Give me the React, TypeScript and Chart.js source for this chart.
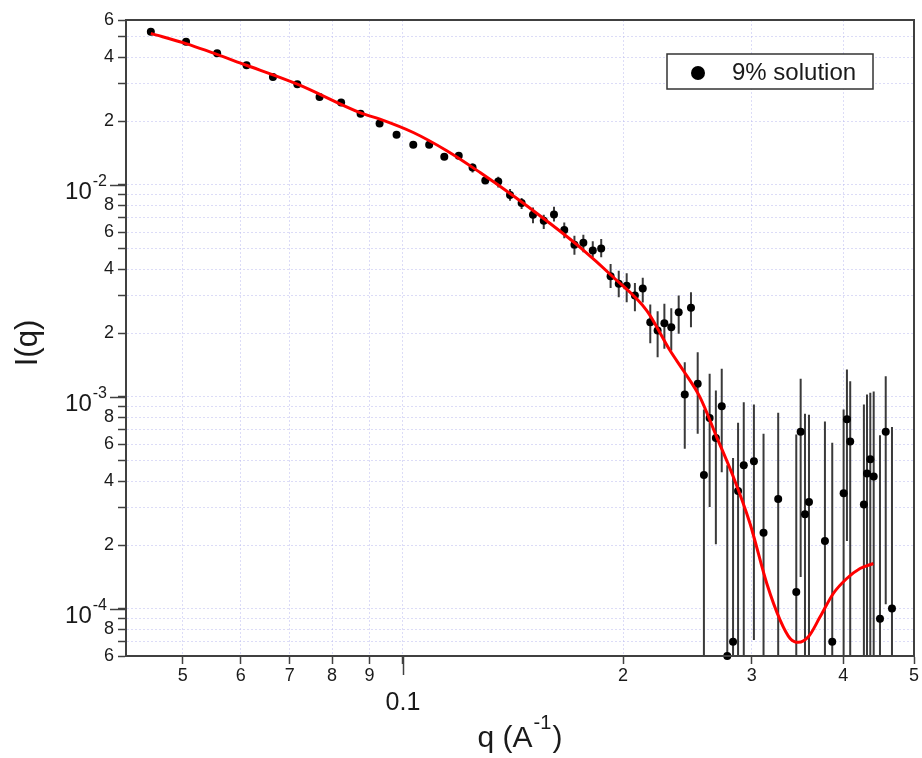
import React, { useEffect, useRef } from 'react';
import { Chart, registerables } from 'chart.js';

Chart.register(...registerables);

// ---- data ----
const seriesLabel = '9% solution';

const qValues = [
  0.0452, 0.0505, 0.0557, 0.0611, 0.0664, 0.0717, 0.0769, 0.0823, 0.0875, 0.0929,
  0.0980, 0.1033, 0.1086, 0.1139, 0.1192, 0.1245, 0.1296, 0.1350, 0.1401, 0.1453,
  0.1506, 0.1558, 0.1609, 0.1662, 0.1716, 0.1765, 0.1818, 0.1867, 0.1923, 0.1973,
  0.2023, 0.2076, 0.2128, 0.2179, 0.2230, 0.2278, 0.2328, 0.2383, 0.2429, 0.2477,
  0.2530, 0.2580, 0.2627, 0.2679, 0.2729, 0.2777, 0.2828, 0.2873, 0.2925, 0.3020,
  0.3113, 0.3260, 0.3451, 0.3499, 0.3547, 0.3592, 0.3777, 0.3865, 0.4006, 0.4048,
  0.4090, 0.4270, 0.4312, 0.4357, 0.4404, 0.4492, 0.4574, 0.4665,
];

const iValues = [
  0.0528, 0.0474, 0.0418, 0.0367, 0.0323, 0.0299, 0.0260, 0.0245, 0.0217, 0.0195,
  0.01724, 0.01547, 0.01547, 0.01358, 0.01373, 0.01209, 0.0105, 0.01039, 0.00897, 0.00822,
  0.00724, 0.00678, 0.00726, 0.00613, 0.00523, 0.00534, 0.00491, 0.00502, 0.00371, 0.00342,
  0.00335, 0.00301, 0.00325, 0.00225, 0.00206, 0.00223, 0.00213, 0.00251, 0.001027, 0.002632,
  0.001154, 0.000428, 0.000795, 0.000640, 0.000905, 0.0000600, 0.000070, 0.000360, 0.000476, 0.000497,
  0.000229, 0.000330, 0.0001204, 0.000686, 0.000280, 0.000320, 0.000209, 0.000070, 0.000351, 0.000784,
  0.000617, 0.000311, 0.000436, 0.000508, 0.000421, 0.000090, 0.000686, 0.0001006,
];

// lower / upper ends of the error bars (null: bar hidden by the marker, 1e-6: runs off the bottom)
const errLow = [
  null, null, null, null, null, null, null, null, null, null,
  null, null, null, null, null, 0.01145, 0.0101, 0.00973, 0.00843, 0.0077,
  0.00659, 0.0062, 0.00673, 0.0056, 0.00469, 0.00481, 0.00456, 0.00456, 0.00327, 0.00295,
  0.0028, 0.002537, 0.00279, 0.001793, 0.00154, 0.001688, 0.001656, 0.001985, 0.00057, 0.002132,
  0.000671, 1e-6, 0.000303, 0.000202, 0.000442, 1e-6, 1e-6, 1e-6, 1e-6, 0.0000713,
  1e-6, 1e-6, 1e-6, 0.0001417, 1e-6, 1e-6, 1e-6, 1e-6, 1e-6, 0.000209,
  1e-6, 1e-6, 1e-6, 1e-6, 1e-6, 1e-6, 0.0001054, 1e-6,
];

const errHigh = [
  null, null, null, null, null, null, null, null, null, null,
  null, null, null, null, null, 0.01263, 0.01093, 0.01093, 0.00957, 0.00868,
  0.00783, 0.00724, 0.00789, 0.00666, 0.00576, 0.00583, 0.00542, 0.00556, 0.00424, 0.00394,
  0.00383, 0.00345, 0.00365, 0.00273, 0.002537, 0.002749, 0.00262, 0.003007, 0.001459, 0.003117,
  0.001626, 0.000873, 0.001286, 0.001073, 0.001358, 0.000476, 0.000515, 0.000756, 0.000945, 0.000922,
  0.000671, 0.000842, 0.000666, 0.001218, 0.000834, 0.000825, 0.000767, 0.000608, 0.000873, 0.001348,
  0.001187, 0.000922, 0.001027, 0.001046, 0.001062, 0.000659, 0.001253, 0.000721,
];

const fitQ = [
  0.0452, 0.0505, 0.0611, 0.0717, 0.0875, 0.0930, 0.1033, 0.1148, 0.1275, 0.1415,
  0.1572, 0.1747, 0.1940, 0.2155, 0.2319, 0.2418, 0.2548, 0.2686, 0.2831, 0.2983,
  0.3145, 0.3280, 0.3385, 0.3474, 0.3585, 0.3720, 0.3878, 0.4046, 0.4219, 0.4399,
];
const fitI = [
  0.0519, 0.0464, 0.0367, 0.0299, 0.02189, 0.02044, 0.01768, 0.01450, 0.01145, 0.00890,
  0.00678, 0.00508, 0.00367, 0.002556, 0.001656, 0.001333, 0.000998, 0.000647, 0.000419, 0.000253,
  0.0001319, 0.0000886, 0.0000726, 0.0000696, 0.0000739, 0.0000918, 0.0001183, 0.0001392, 0.0001551, 0.0001639,
];

const xMin = 0.0418;
const xMax = 0.5;
const yMin = 6e-5;
const yMax = 6e-2;

const xTickValues = [0.05, 0.06, 0.07, 0.08, 0.09, 0.1, 0.2, 0.3, 0.4, 0.5];
const xTickLabels = ['5', '6', '7', '8', '9', '0.1', '2', '3', '4', '5'];
const xDecadeValues = [0.1];

const yTickValues = [
  6e-5, 7e-5, 8e-5, 9e-5,
  1e-4, 2e-4, 3e-4, 4e-4, 5e-4, 6e-4, 7e-4, 8e-4, 9e-4,
  1e-3, 2e-3, 3e-3, 4e-3, 5e-3, 6e-3, 7e-3, 8e-3, 9e-3,
  1e-2, 2e-2, 3e-2, 4e-2, 5e-2, 6e-2,
];
const yTickLabels = [
  '6', '', '8', '',
  '10^-4', '2', '', '4', '', '6', '', '8', '',
  '10^-3', '2', '', '4', '', '6', '', '8', '',
  '10^-2', '2', '', '4', '', '6',
];

const xTitleParts = ['q (A', '-1', ')'];
const yTitle = 'I(q)';

// ---- styling ----
const FONT = '"Liberation Sans", Arial, Helvetica, sans-serif';
const AXIS_COLOR = '#404040';
const GRID_COLOR = 'rgba(185,185,240,0.5)';
const TEXT_COLOR = '#1a1a1a';

const decoPlugin = {
  id: 'deco',
  afterDatasetsDraw(chart: any) {
    const { ctx, chartArea: a, scales } = chart;
    ctx.save();
    ctx.strokeStyle = AXIS_COLOR;
    ctx.lineWidth = 2;
    ctx.strokeRect(a.left, a.top, a.right - a.left, a.bottom - a.top);
    // longer tick marks at the decades
    ctx.lineWidth = 1.5;
    yTickValues.forEach((v, i) => {
      if (!yTickLabels[i].includes('^')) return;
      const y = Math.round(scales.y.getPixelForValue(v)) + 0.5;
      ctx.beginPath();
      ctx.moveTo(a.left - 16, y);
      ctx.lineTo(a.left, y);
      ctx.stroke();
    });
    xDecadeValues.forEach((v) => {
      const x = Math.round(scales.x.getPixelForValue(v)) + 0.5;
      ctx.beginPath();
      ctx.moveTo(x, a.bottom);
      ctx.lineTo(x, a.bottom + 19);
      ctx.stroke();
    });
    ctx.restore();
  },
  afterDraw(chart: any) {
    const { ctx, chartArea: a, scales } = chart;
    ctx.save();
    ctx.fillStyle = TEXT_COLOR;

    // decade labels on y: 10 with superscript exponent
    yTickValues.forEach((v, i) => {
      const lab = yTickLabels[i];
      if (!lab.includes('^')) return;
      const [base, exp] = lab.split('^');
      const y = scales.y.getPixelForValue(v);
      const right = a.left - 19;
      ctx.textAlign = 'right';
      ctx.textBaseline = 'alphabetic';
      ctx.font = `16px ${FONT}`;
      ctx.fillText(exp, right, y + 1);
      const ew = ctx.measureText(exp).width;
      ctx.font = `24px ${FONT}`;
      ctx.fillText(base, right - ew - 1, y + 14);
    });

    // decade label on x
    xTickValues.forEach((v, i) => {
      if (!xDecadeValues.includes(v)) return;
      const x = scales.x.getPixelForValue(v);
      ctx.font = `25px ${FONT}`;
      ctx.textAlign = 'center';
      ctx.textBaseline = 'middle';
      ctx.fillText(xTickLabels[i], x, a.bottom + 47);
    });

    // x title with superscript
    ctx.textBaseline = 'alphabetic';
    ctx.textAlign = 'left';
    ctx.font = `30px ${FONT}`;
    const w1 = ctx.measureText(xTitleParts[0]).width;
    const w3 = ctx.measureText(xTitleParts[2]).width;
    ctx.font = `20px ${FONT}`;
    const w2 = ctx.measureText(xTitleParts[1]).width;
    const cx = (a.left + a.right) / 2;
    const x0 = cx - (w1 + w2 + w3 + 2) / 2;
    const base = a.bottom + 91;
    ctx.font = `30px ${FONT}`;
    ctx.fillText(xTitleParts[0], x0, base);
    ctx.font = `20px ${FONT}`;
    ctx.fillText(xTitleParts[1], x0 + w1 + 1, base - 18);
    ctx.font = `30px ${FONT}`;
    ctx.fillText(xTitleParts[2], x0 + w1 + w2 + 2, base);

    // y title
    ctx.save();
    ctx.translate(28, (a.top + a.bottom) / 2 + 5);
    ctx.rotate(-Math.PI / 2);
    ctx.textAlign = 'center';
    ctx.textBaseline = 'middle';
    ctx.font = `31px ${FONT}`;
    ctx.fillText(yTitle, 0, 0);
    ctx.restore();

    // legend box
    const lx = a.right - 247;
    const ly = a.top + 34;
    const lw = 206;
    const lh = 35;
    ctx.fillStyle = '#ffffff';
    ctx.fillRect(lx, ly, lw, lh);
    ctx.strokeStyle = '#333333';
    ctx.lineWidth = 1.5;
    ctx.strokeRect(lx, ly, lw, lh);
    ctx.fillStyle = '#000000';
    ctx.beginPath();
    ctx.arc(lx + 31, ly + 19, 7, 0, Math.PI * 2);
    ctx.fill();
    ctx.fillStyle = TEXT_COLOR;
    ctx.font = `24px ${FONT}`;
    ctx.textAlign = 'left';
    ctx.textBaseline = 'middle';
    ctx.fillText(chart.data.datasets[0].label, lx + 65, ly + 19);
    ctx.restore();
  },
};

export default function App() {
  const canvasRef = useRef<HTMLCanvasElement | null>(null);

  useEffect(() => {
    const canvas = canvasRef.current;
    if (!canvas) return;

    const points = qValues.map((q, i) => ({ x: q, y: iValues[i] }));
    const fit = fitQ.map((q, i) => ({ x: q, y: fitI[i] }));
    const bars: { x: number; y: number | null }[] = [];
    qValues.forEach((q, i) => {
      const lo = errLow[i];
      const hi = errHigh[i];
      if (lo == null || hi == null) return;
      bars.push({ x: q, y: lo }, { x: q, y: hi }, { x: q, y: null });
    });

    const chart = new Chart(canvas, {
      type: 'scatter',
      data: {
        datasets: [
          {
            label: seriesLabel,
            data: points,
            pointRadius: 4,
            pointBackgroundColor: '#000000',
            pointBorderColor: '#000000',
            pointBorderWidth: 0,
            showLine: false,
            order: 1,
            clip: false as any,
          },
          {
            label: 'fit',
            data: fit,
            showLine: true,
            borderColor: '#ff0000',
            borderWidth: 3,
            pointRadius: 0,
            cubicInterpolationMode: 'monotone',
            order: 0,
          } as any,
          {
            label: 'error',
            data: bars,
            showLine: true,
            spanGaps: false,
            borderColor: '#3a3a3a',
            borderWidth: 2,
            pointRadius: 0,
            order: 2,
          } as any,
        ],
      },
      options: {
        animation: false,
        responsive: false,
        devicePixelRatio: 1,
        events: [],
        layout: { padding: { left: 0, right: 8, top: 20, bottom: 0 } },
        plugins: {
          legend: { display: false },
          tooltip: { enabled: false },
        },
        scales: {
          x: {
            type: 'logarithmic',
            min: xMin,
            max: xMax,
            afterBuildTicks: (scale: any) => {
              scale.ticks = xTickValues.map((v) => ({ value: v }));
            },
            afterFit: (scale: any) => {
              scale.height = 102;
            },
            ticks: {
              autoSkip: false,
              maxRotation: 0,
              minRotation: 0,
              padding: 1,
              color: TEXT_COLOR,
              font: { family: FONT, size: 18 },
              callback: (_v: any, i: number) =>
                xDecadeValues.includes(xTickValues[i]) ? '' : xTickLabels[i],
            },
            grid: {
              color: GRID_COLOR,
              lineWidth: 1,
              tickLength: 8,
              tickColor: AXIS_COLOR,
              tickWidth: 1.5,
            },
            border: { display: true, color: AXIS_COLOR, width: 2, dash: [2, 2] },
          },
          y: {
            type: 'logarithmic',
            min: yMin,
            max: yMax,
            afterBuildTicks: (scale: any) => {
              scale.ticks = yTickValues.map((v) => ({ value: v }));
            },
            afterFit: (scale: any) => {
              scale.width = 126;
            },
            ticks: {
              autoSkip: false,
              padding: 4,
              color: TEXT_COLOR,
              font: { family: FONT, size: 18 },
              callback: (_v: any, i: number) =>
                yTickLabels[i].includes('^') ? '' : yTickLabels[i],
            },
            grid: {
              color: GRID_COLOR,
              lineWidth: 1,
              tickLength: 8,
              tickColor: AXIS_COLOR,
              tickWidth: 1.5,
            },
            border: { display: true, color: AXIS_COLOR, width: 2, dash: [2, 2] },
          },
        } as any,
      },
      plugins: [decoPlugin],
    });

    return () => {
      chart.destroy();
    };
  }, []);

  return (
    <div
      style={{
        position: 'fixed',
        left: 0,
        top: 0,
        width: 922,
        height: 758,
        background: '#ffffff',
      }}
    >
      <canvas
        ref={canvasRef}
        width={922}
        height={758}
        style={{ width: 922, height: 758, display: 'block' }}
      />
    </div>
  );
}
